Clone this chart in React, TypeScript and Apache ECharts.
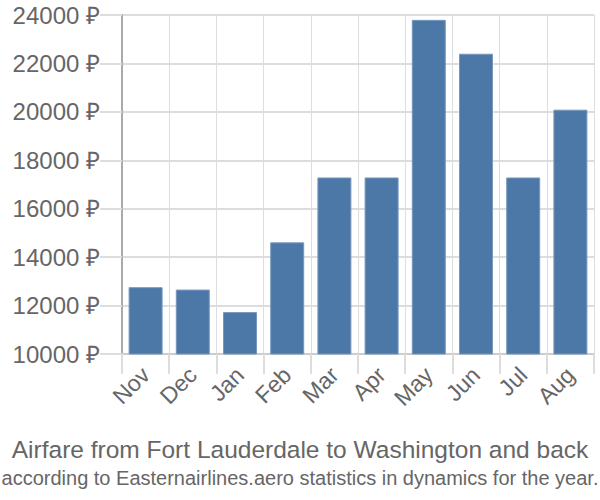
import React, { useEffect, useRef } from "react";
import * as echarts from "echarts";

const categories = ["Nov", "Dec", "Jan", "Feb", "Mar", "Apr", "May", "Jun", "Jul", "Aug"];
const prices = [12760, 12660, 11730, 14610, 17290, 17290, 23800, 22400, 17290, 20090];
const titleText = "Airfare from Fort Lauderdale to Washington and back";
const subtitleText = "according to Easternairlines.aero statistics in dynamics for the year.";

export default function App() {
  const ref = useRef<HTMLDivElement>(null);
  useEffect(() => {
    document.body.style.margin = "0";
    const chart = echarts.init(ref.current!, null, { renderer: "svg" });
    chart.setOption({
      animation: false,
      textStyle: { fontFamily: "Liberation Sans, Arial, sans-serif" },
      title: {
        text: titleText,
        subtext: subtitleText,
        left: "center",
        top: 432,
        itemGap: 6,
        textStyle: { fontSize: 24.5, fontWeight: "normal", color: "#666" },
        subtextStyle: { fontSize: 20, color: "#666" },
      },
      grid: { left: 122, right: 6, top: 15, bottom: 146 },
      xAxis: {
        type: "category",
        data: categories,
        axisLine: { lineStyle: { color: "#ccc", width: 2 } },
        axisTick: { show: true, length: 20, lineStyle: { color: "#ddd", width: 2 } },
        splitLine: { show: true, lineStyle: { color: "#ddd", width: 1 } },
        axisLabel: { rotate: 45, fontSize: 23, color: "#666", margin: 17 },
      },
      yAxis: {
        type: "value",
        min: 10000,
        max: 24000,
        interval: 2000,
        axisLine: { show: true, lineStyle: { color: "#aaa", width: 2 } },
        axisTick: { show: true, length: 22, lineStyle: { color: "#ddd", width: 2 } },
        splitLine: { show: true, lineStyle: { color: "#ddd", width: 2 } },
        axisLabel: { fontSize: 24, color: "#666", margin: 22, formatter: (v: number) => v + " ₽" },
      },
      series: [
        {
          type: "bar",
          data: prices,
          barCategoryGap: "28%",
          itemStyle: { color: "#4c78a8", borderColor: "#7897bd", borderWidth: 1 },
        },
      ],
    });
    return () => chart.dispose();
  }, []);
  return <div ref={ref} style={{ width: 600, height: 500 }} />;
}
